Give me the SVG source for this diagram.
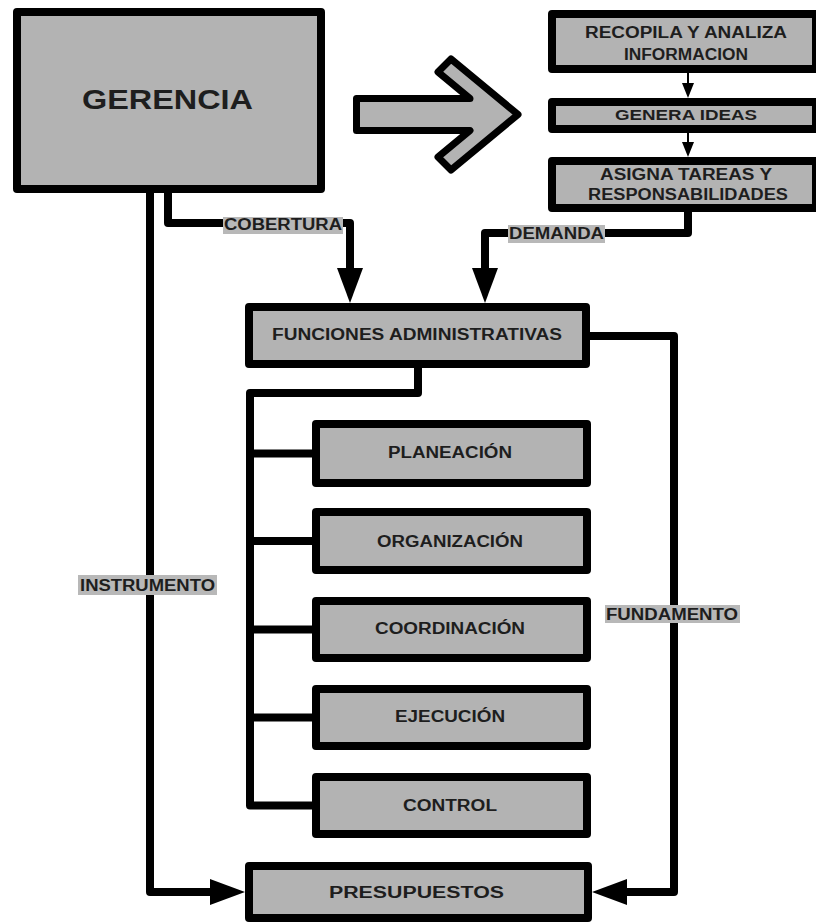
<svg xmlns="http://www.w3.org/2000/svg" width="816" height="924" viewBox="0 0 816 924">
  <style>
    .box { fill: #b3b3b3; stroke: #000; stroke-width: 8; stroke-linejoin: round; }
    .wire { fill: none; stroke: #000; stroke-width: 8; stroke-linejoin: round; }
    .thin { fill: none; stroke: #000; stroke-width: 2; }
    .lbl { fill: #1e1e1e; font-family: "Liberation Sans", Arial, sans-serif; font-weight: bold; font-size: 16px; text-anchor: middle; }
    .tag { fill: #b8b8b8; }
  </style>
  <defs>
    <marker id="head" viewBox="0 0 35 26" refX="0" refY="13" markerWidth="35" markerHeight="26" markerUnits="userSpaceOnUse" orient="auto">
      <path d="M0,0 L35,13 L0,26 Z" fill="#000"/>
    </marker>
    <marker id="headSmall" viewBox="0 0 15 12" refX="0" refY="6" markerWidth="15" markerHeight="12" markerUnits="userSpaceOnUse" orient="auto">
      <path d="M0,0 L15,6 L0,12 Z" fill="#000"/>
    </marker>
  </defs>

  <rect width="816" height="924" fill="#fff"/>

  <!-- connectors -->
  <g id="connectors">
    <!-- instrumento: gerencia to presupuestos -->
    <path class="wire" d="M150,190 V892 H210" marker-end="url(#head)"/>
    <!-- cobertura: gerencia to funciones -->
    <path class="wire" d="M168,190 V223 H350 V268" marker-end="url(#head)"/>
    <!-- demanda: asigna to funciones -->
    <path class="wire" d="M688,208 V233 H485 V268" marker-end="url(#head)"/>
    <!-- fundamento: funciones to presupuestos -->
    <path class="wire" d="M588,336 H674 V892 H627" marker-end="url(#head)"/>
    <!-- functions tree -->
    <path class="wire" d="M418,366 V393 H250 V805.5 H314"/>
    <path class="wire" d="M250,453.5 H314 M250,541 H314 M250,629.5 H314 M250,717.5 H314"/>
    <!-- right column chain -->
    <path class="thin" d="M688,73 V83" marker-end="url(#headSmall)"/>
    <path class="thin" d="M688,133 V142" marker-end="url(#headSmall)"/>
    <!-- labels on connectors -->
    <rect class="tag" x="223" y="217" width="120" height="17"/>
    <text class="lbl" x="283" y="230" textLength="118" lengthAdjust="spacingAndGlyphs">COBERTURA</text>
    <rect class="tag" x="508" y="225" width="97" height="18"/>
    <text class="lbl" x="556.5" y="239" textLength="95" lengthAdjust="spacingAndGlyphs">DEMANDA</text>
    <rect class="tag" x="78" y="575" width="139" height="20"/>
    <text class="lbl" x="147.5" y="591" textLength="135" lengthAdjust="spacingAndGlyphs">INSTRUMENTO</text>
    <rect class="tag" x="605" y="605" width="135" height="18"/>
    <text class="lbl" x="672" y="620" textLength="132" lengthAdjust="spacingAndGlyphs">FUNDAMENTO</text>
  </g>

  <g id="gerencia">
    <rect class="box" x="17" y="12" width="304" height="177"/>
    <text class="lbl" x="167.5" y="109" style="font-size:28px" textLength="171" lengthAdjust="spacingAndGlyphs">GERENCIA</text>
  </g>

  <g id="flecha">
    <polygon points="356.5,98.5 470,98.5 438,72 451,59 518,114.5 451,170 438,157 470,130.5 356.5,130.5" fill="#b3b3b3" stroke="#000" stroke-width="7" stroke-linejoin="round"/>
  </g>

  <g id="recopila">
    <rect class="box" x="552" y="14" width="264" height="55"/>
    <text class="lbl" x="686" y="38" textLength="202" lengthAdjust="spacingAndGlyphs">RECOPILA Y ANALIZA</text>
    <text class="lbl" x="686" y="60" textLength="124" lengthAdjust="spacingAndGlyphs">INFORMACION</text>
  </g>

  <g id="genera">
    <rect class="box" x="552" y="102" width="264" height="27"/>
    <text class="lbl" x="686" y="120" style="font-size:14px" textLength="142" lengthAdjust="spacingAndGlyphs">GENERA IDEAS</text>
  </g>

  <g id="asigna">
    <rect class="box" x="552" y="161" width="264" height="47"/>
    <text class="lbl" x="686" y="180" textLength="172" lengthAdjust="spacingAndGlyphs">ASIGNA TAREAS Y</text>
    <text class="lbl" x="688" y="200" textLength="200" lengthAdjust="spacingAndGlyphs">RESPONSABILIDADES</text>
  </g>

  <g id="funciones">
    <rect class="box" x="249" y="307" width="337" height="57"/>
    <text class="lbl" x="417" y="340" textLength="290" lengthAdjust="spacingAndGlyphs">FUNCIONES ADMINISTRATIVAS</text>
  </g>

  <g id="planeacion">
    <rect class="box" x="316" y="424" width="271" height="59"/>
    <text class="lbl" x="450" y="458" textLength="124" lengthAdjust="spacingAndGlyphs">PLANEACIÓN</text>
  </g>

  <g id="organizacion">
    <rect class="box" x="316" y="512" width="271" height="58"/>
    <text class="lbl" x="450" y="547" textLength="146" lengthAdjust="spacingAndGlyphs">ORGANIZACIÓN</text>
  </g>

  <g id="coordinacion">
    <rect class="box" x="316" y="601" width="271" height="57"/>
    <text class="lbl" x="450" y="634" textLength="150" lengthAdjust="spacingAndGlyphs">COORDINACIÓN</text>
  </g>

  <g id="ejecucion">
    <rect class="box" x="316" y="689" width="271" height="57"/>
    <text class="lbl" x="450" y="722" textLength="110" lengthAdjust="spacingAndGlyphs">EJECUCIÓN</text>
  </g>

  <g id="control">
    <rect class="box" x="316" y="777" width="271" height="57"/>
    <text class="lbl" x="450" y="811" textLength="94" lengthAdjust="spacingAndGlyphs">CONTROL</text>
  </g>

  <g id="presupuestos">
    <rect class="box" x="249" y="866" width="339" height="52"/>
    <text class="lbl" x="416.5" y="898" textLength="175" lengthAdjust="spacingAndGlyphs">PRESUPUESTOS</text>
  </g>
</svg>
